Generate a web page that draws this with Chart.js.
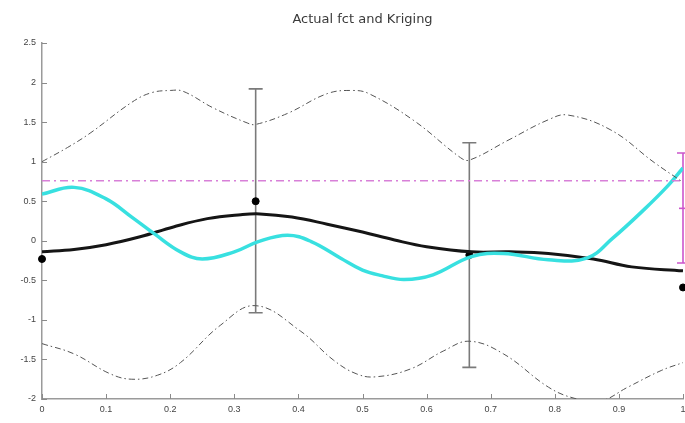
<!DOCTYPE html>
<html>
<head>
<meta charset="utf-8">
<script src="https://cdn.jsdelivr.net/npm/chart.js@4.4.1/dist/chart.umd.min.js"></script>
<style>
  html, body { margin: 0; padding: 0; background: #fff; }
  #wrap { width: 685px; height: 423px; }
</style>
</head>
<body>
<div id="wrap"><canvas id="krigChart"></canvas></div>
<script>
// tick labels
const xTickLabels = ['0', '0.1', '0.2', '0.3', '0.4', '0.5', '0.6', '0.7', '0.8', '0.9', '1'];
const yTickLabels = ['-2', '-1.5', '-1', '-0.5', '0', '0.5', '1', '1.5', '2', '2.5'];

// actual function (cyan)
const actualX = [0, 0.05, 0.1, 0.14, 0.175, 0.216, 0.25, 0.3, 0.3375, 0.383, 0.42, 0.466, 0.5, 0.53, 0.565, 0.61, 0.67, 0.72, 0.79, 0.85, 0.89, 0.94, 0.977, 1];
const actualY = [0.59, 0.675, 0.53, 0.3, 0.09, -0.14, -0.23, -0.14, -0.01, 0.07, -0.01, -0.22, -0.37, -0.44, -0.49, -0.43, -0.2, -0.16, -0.24, -0.22, 0.03, 0.4, 0.7, 0.92];

// kriging prediction (black)
const krigX = [0, 0.05, 0.1, 0.153, 0.205, 0.258, 0.31, 0.34, 0.39, 0.445, 0.5, 0.55, 0.6, 0.67, 0.73, 0.79, 0.86, 0.92, 1];
const krigY = [-0.14, -0.11, -0.05, 0.05, 0.175, 0.28, 0.33, 0.34, 0.3, 0.21, 0.11, 0.01, -0.075, -0.14, -0.14, -0.16, -0.23, -0.33, -0.38];

// confidence bounds (dash-dot)
const upperX = [0, 0.04, 0.075, 0.14, 0.17, 0.2, 0.22, 0.267, 0.32, 0.333, 0.383, 0.445, 0.484, 0.51, 0.58, 0.653, 0.667, 0.727, 0.79, 0.82, 0.8875, 0.955, 1];
const upperY = [1.0, 1.18, 1.36, 1.75, 1.87, 1.9, 1.89, 1.68, 1.49, 1.47, 1.61, 1.86, 1.9, 1.86, 1.52, 1.05, 1.02, 1.27, 1.53, 1.59, 1.4, 0.99, 0.74];
const lowerX = [0, 0.05, 0.106, 0.14, 0.18, 0.216, 0.278, 0.333, 0.403, 0.455, 0.49, 0.52, 0.575, 0.627, 0.667, 0.72, 0.79, 0.83, 0.87, 0.914, 0.966, 1];
const lowerY = [-1.3, -1.43, -1.68, -1.75, -1.7, -1.54, -1.07, -0.82, -1.14, -1.51, -1.68, -1.72, -1.62, -1.39, -1.27, -1.43, -1.85, -1.99, -2.03, -1.85, -1.64, -1.54];

// sample points
const sampleX = [0, 1 / 3, 2 / 3, 1];
const sampleY = [-0.23, 0.5, -0.18, -0.59];

// error bars at samples
const errX = [1 / 3, 2 / 3];
const errLo = [-0.91, -1.6];
const errHi = [1.92, 1.24];

// magenta bar at x = 1 and its dashed level
const magX = [1];
const magLo = [-0.28];
const magMid = [0.41];
const magHi = [1.11];
const magLevel = 0.76;

const toPts = (xs, ys) => xs.map((x, i) => ({ x: x, y: ys[i] }));

// error bars + inward ticks
const extrasPlugin = {
    id: 'extras',
    beforeDatasetsDraw(chart) {
        const ctx = chart.ctx;
        const xs = chart.scales.x, ys = chart.scales.y;
        ctx.save();
        const bar = (x, lo, hi, color, w, cap) => {
            const px = xs.getPixelForValue(x);
            const pl = ys.getPixelForValue(lo);
            const ph = ys.getPixelForValue(hi);
            ctx.strokeStyle = color;
            ctx.lineWidth = w;
            ctx.beginPath();
            ctx.moveTo(px, pl); ctx.lineTo(px, ph);
            ctx.moveTo(px - cap, pl); ctx.lineTo(px + cap, pl);
            ctx.moveTo(px - cap, ph); ctx.lineTo(px + cap, ph);
            ctx.stroke();
        };
        errX.forEach((x, i) => bar(x, errLo[i], errHi[i], '#7a7a7a', 1.6, 7));
        magX.forEach((x, i) => {
            bar(x, magLo[i], magHi[i], '#cc55cc', 1.6, 6);
            const px = xs.getPixelForValue(x);
            const pm = ys.getPixelForValue(magMid[i]);
            ctx.beginPath();
            ctx.moveTo(px - 4, pm); ctx.lineTo(px + 4, pm);
            ctx.stroke();
        });
        ctx.restore();
    },
    afterDraw(chart) {
        const ctx = chart.ctx;
        const xs = chart.scales.x, ys = chart.scales.y;
        const a = chart.chartArea;
        ctx.save();
        ctx.strokeStyle = '#8a8a8a';
        ctx.lineWidth = 1;
        ctx.beginPath();
        ys.ticks.forEach(t => {
            const p = Math.round(ys.getPixelForValue(t.value)) + 0.5;
            ctx.moveTo(a.left, p); ctx.lineTo(a.left + 5, p);
        });
        xs.ticks.forEach(t => {
            const p = Math.round(xs.getPixelForValue(t.value)) + 0.5;
            ctx.moveTo(p, a.bottom); ctx.lineTo(p, a.bottom - 5);
        });
        ctx.stroke();
        ctx.restore();
    }
};

const ctx = document.getElementById('krigChart').getContext('2d');
new Chart(ctx, {
    type: 'line',
    data: {
        datasets: [
            {
                label: 'upper',
                data: toPts(upperX, upperY),
                borderColor: '#555',
                borderWidth: 1,
                borderDash: [6, 3, 1.5, 3],
                pointRadius: 0,
                tension: 0.4
            },
            {
                label: 'lower',
                data: toPts(lowerX, lowerY),
                borderColor: '#555',
                borderWidth: 1,
                borderDash: [6, 3, 1.5, 3],
                pointRadius: 0,
                tension: 0.4
            },
            {
                label: 'level',
                data: [{ x: 0, y: magLevel }, { x: 1, y: magLevel }],
                borderColor: '#d880d8',
                borderWidth: 1.5,
                borderDash: [8, 4, 2, 4],
                pointRadius: 0
            },
            {
                label: 'Actual fct',
                data: toPts(actualX, actualY),
                borderColor: '#38e0e0',
                borderWidth: 3.5,
                pointRadius: 0,
                tension: 0.4
            },
            {
                label: 'Kriging',
                data: toPts(krigX, krigY),
                borderColor: '#151515',
                borderWidth: 3,
                pointRadius: 0,
                tension: 0.4
            },
            {
                label: 'samples',
                data: toPts(sampleX, sampleY),
                showLine: false,
                pointRadius: 3.5,
                pointBackgroundColor: '#000',
                pointBorderColor: '#000',
                clip: 6
            }
        ]
    },
    options: {
        responsive: true,
        maintainAspectRatio: false,
        animation: false,
        layout: { autoPadding: false, padding: { left: 0, right: 2, top: 0, bottom: 0 } },
        plugins: {
            legend: { display: false },
            tooltip: { enabled: false },
            title: {
                display: true,
                fullSize: false,
                text: 'Actual fct and Kriging',
                color: '#3a3a3a',
                font: { family: 'DejaVu Sans, sans-serif', size: 13, weight: 'normal' },
                padding: { top: 12, bottom: 15.4 }
            }
        },
        scales: {
            x: {
                type: 'linear',
                min: 0,
                max: 1,
                ticks: {
                    stepSize: 0.1,
                    color: '#444',
                    font: { family: 'Liberation Sans, Arial, sans-serif', size: 9 },
                    padding: 5,
                    maxRotation: 0,
                    callback: v => xTickLabels[Math.round(v * 10)]
                },
                grid: { display: false, drawTicks: false },
                border: { display: true, color: '#9a9a9a', width: 1.5 },
                afterFit: s => { s.height = 24; s.paddingRight = 0; s.paddingLeft = 0; }
            },
            y: {
                min: -2,
                max: 2.5,
                ticks: {
                    stepSize: 0.5,
                    color: '#444',
                    font: { family: 'Liberation Sans, Arial, sans-serif', size: 9 },
                    padding: 6,
                    callback: v => yTickLabels[Math.round((v + 2) * 2)]
                },
                grid: { display: false, drawTicks: false },
                border: { display: true, color: '#9a9a9a', width: 1.5 },
                afterFit: s => { s.width = 42; s.paddingTop = 0; s.paddingBottom = 0; }
            }
        }
    },
    plugins: [extrasPlugin]
});
</script>
</body>
</html>
